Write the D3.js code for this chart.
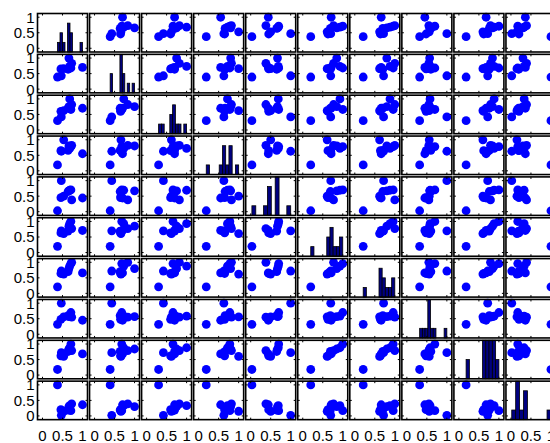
<!DOCTYPE html>
<html>
<head>
<meta charset="utf-8">
<script src="https://cdn.jsdelivr.net/npm/d3@7"></script>
<style>
body { margin: 0; background: #fff; }
.frame { fill: none; stroke: #000; stroke-width: 1.6px; }
.tk { stroke: #000; stroke-width: 1px; }
.lbl { font-family: "Liberation Sans", Arial, sans-serif; font-size: 15px; fill: #000; }
</style>
</head>
<body>
<svg width="550" height="443"></svg>
<script>

// one array per variable, 10 observations each
var v1  = [0.375, 0.47, 0.46, 0.53, 0.64, 0.66, 0.68, 0.71, 0.73, 1.00];
var v2  = [0.39, 0.43, 0.65, 0.66, 0.64, 1.00, 0.73, 0.68, 0.83, 0.70];
var v3  = [0.30, 0.42, 0.60, 0.62, 0.70, 0.75, 1.00, 0.66, 0.82, 0.70];
var v4  = [0.19, 0.63, 0.65, 1.00, 0.66, 0.80, 0.72, 0.78, 0.82, 0.55];
var v5  = [0.03, 1.00, 0.45, 0.50, 0.65, 0.67, 0.69, 0.70, 0.38, 0.44];
var v6  = [0.20, 0.70, 0.63, 0.61, 0.69, 0.85, 0.93, 1.00, 0.77, 0.71];
var v7  = [0.21, 0.72, 0.64, 0.62, 0.70, 0.80, 0.88, 0.96, 1.00, 0.66];
var v8  = [0.32, 1.00, 0.48, 0.56, 0.60, 0.57, 0.58, 0.70, 0.55, 0.45];
var v9  = [0.18, 0.72, 0.62, 0.60, 0.76, 0.84, 0.88, 1.00, 0.79, 0.68];
var v10 = [1.00, 0.02, 0.20, 0.15, 0.19, 0.30, 0.33, 0.17, 0.39, 0.36];

var vars = [v1, v2, v3, v4, v5, v6, v7, v8, v9, v10];
var tickValues = [0, 0.5, 1];
var tickLabels = ["0", "0.5", "1"];
var nBins = 10;

var svg = d3.select("svg");
var n = vars.length;
var gridLeft = 37.5, gridTop = 13.5, pitchX = 52.05, pitchY = 40.85, cellW = 50, cellH = 38.5;

var x = d3.scaleLinear().domain([-0.125, 1.125]).range([0, cellW]);
var y = d3.scaleLinear().domain([-0.12, 1.12]).range([cellH, 0]);

function hist(vals) {
	var lo = d3.min(vals), hi = d3.max(vals), w = (hi - lo) / nBins;
	var counts = d3.range(nBins).map(function() { return 0; });
	vals.forEach(function(v) {
		var k = Math.min(nBins - 1, Math.floor((v - lo) / w));
		counts[k]++;
	});
	return counts.map(function(c, k) { return {x0: lo + k * w, x1: lo + (k + 1) * w, c: c}; });
}

for (var i = 0; i < n; i++) {
	for (var j = 0; j < n; j++) {
		var g = svg.append("g")
			.attr("transform", "translate(" + (gridLeft + j * pitchX) + "," + (gridTop + i * pitchY) + ")");

		if (i === j) {
			var bins = hist(vars[i]);
			var m = d3.max(bins, function(b) { return b.c; });
			var hy = d3.scaleLinear().domain([0, m % 2 ? m + 1 : m]).range([cellH, 0]);
			g.selectAll("rect.bar")
				.data(bins.filter(function(b) { return b.c > 0; }))
				.enter().append("rect")
				.attr("class", "bar")
				.attr("x", function(b) { return x(b.x0); })
				.attr("width", function(b) { return x(b.x1) - x(b.x0); })
				.attr("y", function(b) { return hy(b.c); })
				.attr("height", function(b) { return cellH - hy(b.c); })
				.attr("fill", "#000080")
				.attr("stroke", "#000")
				.attr("stroke-width", 0.8);
		} else {
			var xs = vars[j], ys = vars[i];
			g.selectAll("circle")
				.data(d3.range(xs.length))
				.enter().append("circle")
				.attr("cx", function(k) { return x(xs[k]); })
				.attr("cy", function(k) { return y(ys[k]); })
				.attr("r", 4.4)
				.attr("fill", "#0000ff");
		}

		// tick marks on all four sides
		tickValues.forEach(function(t) {
			g.append("line").attr("class", "tk").attr("x1", x(t)).attr("x2", x(t)).attr("y1", cellH).attr("y2", cellH - 2);
			g.append("line").attr("class", "tk").attr("x1", x(t)).attr("x2", x(t)).attr("y1", 0).attr("y2", 2);
			g.append("line").attr("class", "tk").attr("y1", y(t)).attr("y2", y(t)).attr("x1", 0).attr("x2", 2);
			g.append("line").attr("class", "tk").attr("y1", y(t)).attr("y2", y(t)).attr("x1", cellW).attr("x2", cellW - 2);
		});

		g.append("rect").attr("class", "frame").attr("width", cellW).attr("height", cellH);

		if (j === 0) {
			tickValues.forEach(function(t, k) {
				g.append("text").attr("class", "lbl")
					.attr("x", -3).attr("y", y(t))
					.attr("dy", "0.36em")
					.attr("text-anchor", "end")
					.text(tickLabels[k]);
			});
		}
		if (i === n - 1) {
			tickValues.forEach(function(t, k) {
				g.append("text").attr("class", "lbl")
					.attr("x", x(t)).attr("y", cellH + 21)
					.attr("text-anchor", "middle")
					.text(tickLabels[k]);
			});
		}
	}
}
</script>
</body>
</html>
